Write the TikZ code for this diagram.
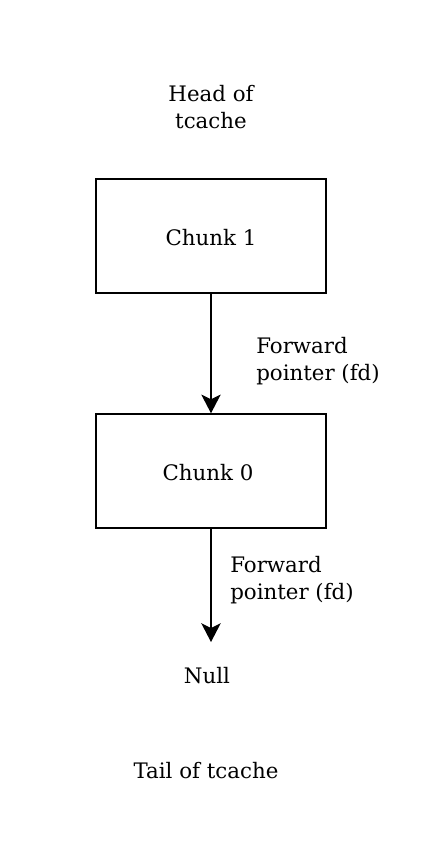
\documentclass[tikz,border=0pt]{standalone}
\usepackage{fontspec}
\setmainfont{DejaVu Serif}
\usetikzlibrary{arrows.meta}

\tikzset{
  chunkbox/.style={draw, line width=1.1pt, minimum width=230*0.75pt, minimum height=114*0.75pt, inner sep=0pt},
  lbl/.style={inner sep=0.75pt, font=\fontsize{16}{20.25}\selectfont, align=left},
  fdarrow/.style={line width=1.1pt, -{Stealth[length=14pt, width=14.5pt, inset=3.5pt]}}
}

\begin{document}
\begin{tikzpicture}[x=0.75pt,y=0.75pt,yscale=-1,xscale=1]
%set diagram size to 429 x 847
\path [use as bounding box] (0,0) rectangle (429,847);

%Shape: Rectangle
\node [chunkbox] (chunk1) at (211,236) {};
%Shape: Rectangle
\node [chunkbox] (chunk0) at (211,471) {};
\coordinate (nullend) at (211,642);

% Text Node
\node [lbl, align=center] (head) at (211,107) {Head of\\tcache};
% Text Node
\node [lbl] (c1) at (211,238) {Chunk 1};
% Text Node
\node [lbl] (c0) at (208,473) {Chunk 0};
% Text Node
\node [lbl, anchor=west] (fd1) at (255,361) {Forward\\pointer (fd)};
% Text Node
\node [lbl, anchor=west] (fd0) at (229,580) {Forward\\pointer (fd)};
% Text Node
\node [lbl] (null) at (207,676) {Null};
% Text Node
\node [lbl] (tail) at (206,771) {Tail of tcache};

%Straight Lines
\draw [fdarrow] (chunk1.south) -- (chunk0.north);
%Straight Lines
\draw [fdarrow] (chunk0.south) -- (nullend);

\end{tikzpicture}
\end{document}
